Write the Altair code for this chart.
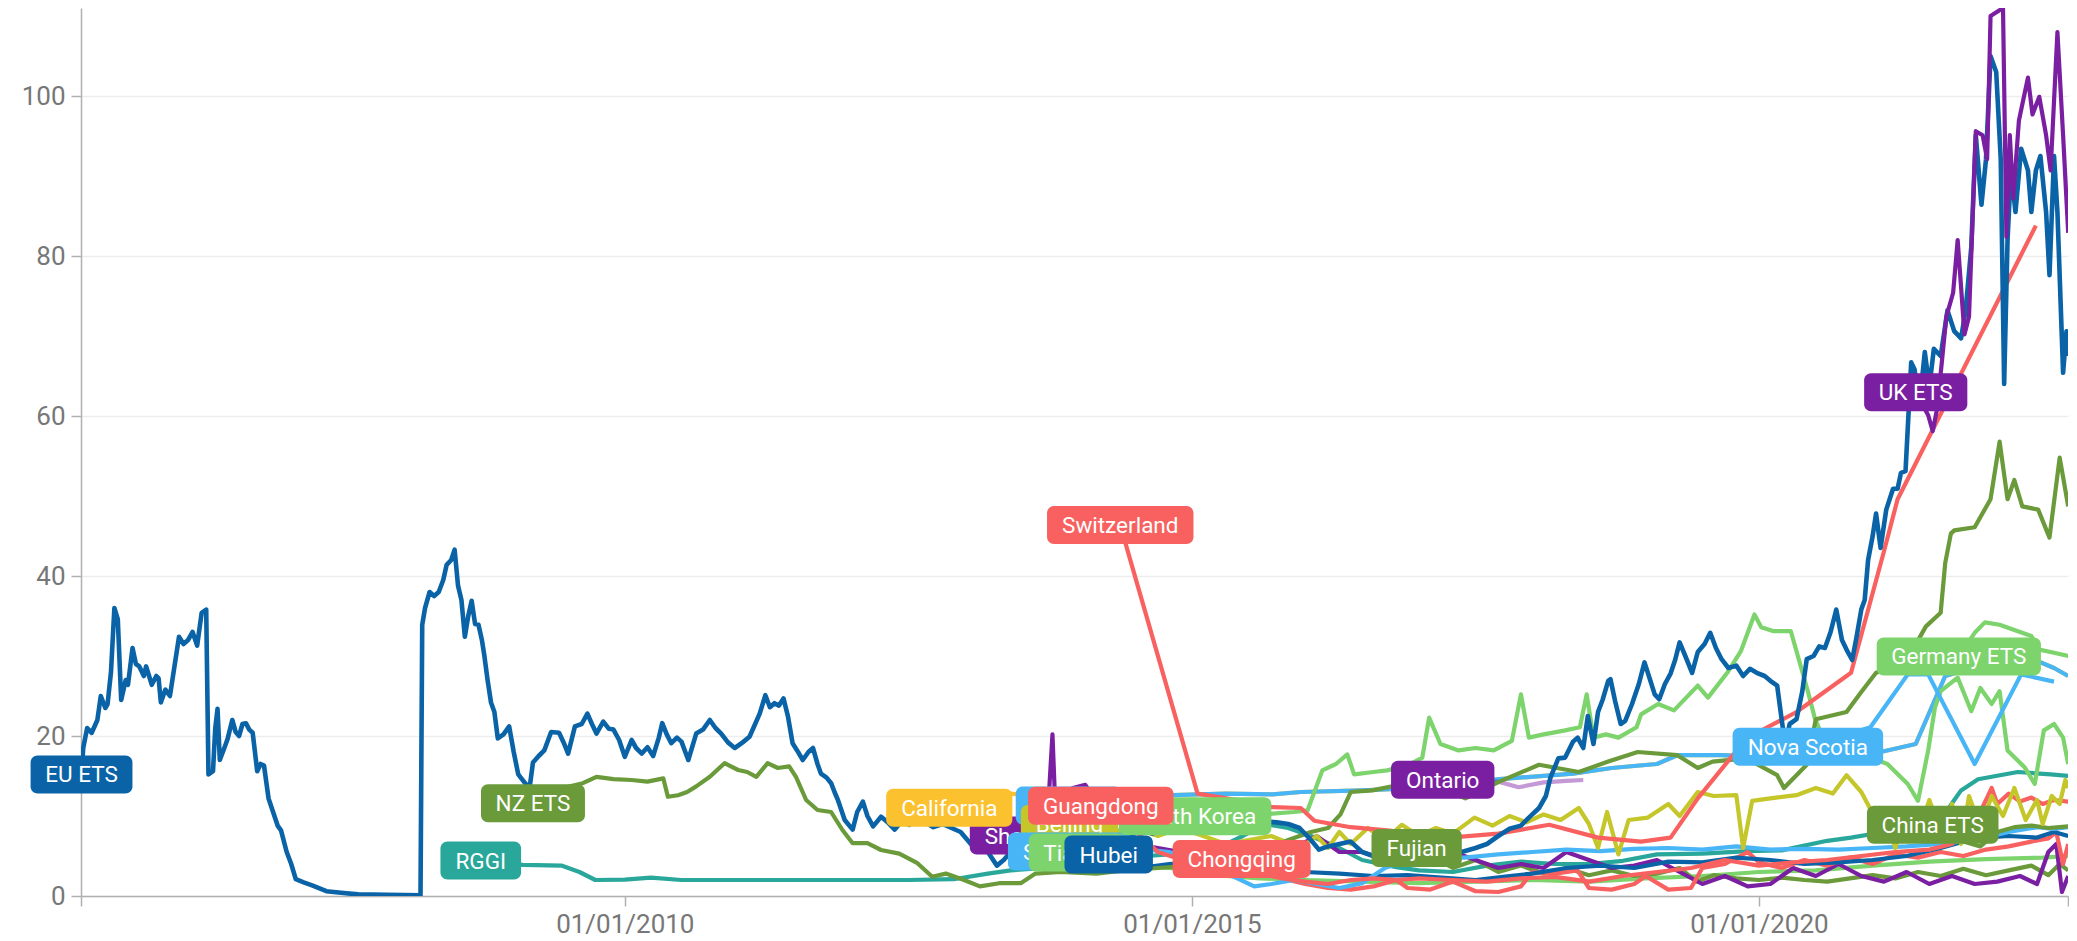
import altair as alt
import pandas as pd

# ---------------- data (decimal year, price) ----------------
EU_ETS = [
    (2005.21, 15.2), (2005.225, 18.5), (2005.26, 21), (2005.30, 20.4), (2005.35, 22), (2005.38, 25),
    (2005.42, 23.5), (2005.44, 24), (2005.47, 28), (2005.50, 36), (2005.53, 34.6), (2005.56, 24.5),
    (2005.60, 27), (2005.62, 26.4), (2005.66, 31), (2005.69, 29), (2005.72, 28.7), (2005.76, 27.5),
    (2005.78, 28.7), (2005.83, 26.4), (2005.87, 27.5), (2005.89, 27.2), (2005.91, 24.2), (2005.95, 25.8),
    (2005.99, 25), (2006.03, 28.7), (2006.07, 32.4), (2006.11, 31.5), (2006.15, 32), (2006.19, 33),
    (2006.23, 31.3), (2006.27, 35.4), (2006.31, 35.8), (2006.33, 15.2), (2006.37, 15.6), (2006.39, 21),
    (2006.41, 23.4), (2006.43, 17), (2006.47, 18.5), (2006.50, 19.7), (2006.54, 22), (2006.57, 20.5),
    (2006.60, 20), (2006.63, 21.5), (2006.66, 21.6), (2006.69, 20.8), (2006.72, 20.4), (2006.76, 15.6),
    (2006.79, 16.5), (2006.82, 16.3), (2006.86, 12.2), (2006.90, 10.5), (2006.94, 8.8), (2006.97, 8.2),
    (2007.02, 5.5), (2007.06, 4.0), (2007.10, 2.1), (2007.17, 1.7), (2007.25, 1.3), (2007.37, 0.6),
    (2007.50, 0.4), (2007.65, 0.2), (2007.90, 0.15), (2008.20, 0.1), (2008.215, 33.9), (2008.24, 36),
    (2008.28, 38), (2008.32, 37.5), (2008.36, 38), (2008.40, 39.5), (2008.43, 41.4), (2008.47, 42),
    (2008.50, 43.3), (2008.53, 38.8), (2008.56, 37), (2008.59, 32.4), (2008.62, 35), (2008.65, 36.9),
    (2008.68, 34), (2008.71, 33.9), (2008.74, 32), (2008.76, 30.2), (2008.79, 27), (2008.82, 24.2),
    (2008.85, 23), (2008.88, 19.7), (2008.93, 20.2), (2008.98, 21.2), (2009.02, 18), (2009.06, 15.2),
    (2009.12, 14.1), (2009.16, 13.5), (2009.19, 16.7), (2009.24, 17.5), (2009.29, 18.2), (2009.35, 20.5),
    (2009.42, 20.4), (2009.46, 19.2), (2009.50, 17.8), (2009.56, 21.2), (2009.62, 21.5), (2009.67, 22.8),
    (2009.71, 21.5), (2009.75, 20.3), (2009.81, 21.8), (2009.86, 20.9), (2009.90, 20.8), (2009.95, 19.5),
    (2010.00, 17.4), (2010.06, 19.5), (2010.10, 18.5), (2010.15, 17.8), (2010.20, 18.6), (2010.25, 17.5),
    (2010.30, 19.8), (2010.33, 21.6), (2010.37, 20.2), (2010.41, 19.1), (2010.46, 19.8), (2010.50, 19.3),
    (2010.56, 17.0), (2010.63, 20.3), (2010.69, 20.8), (2010.75, 22.0), (2010.80, 21.0), (2010.85, 20.3),
    (2010.91, 19.2), (2010.97, 18.5), (2011.04, 19.2), (2011.10, 19.9), (2011.15, 21.5), (2011.19, 22.8),
    (2011.24, 25.1), (2011.28, 23.6), (2011.32, 24.1), (2011.36, 23.8), (2011.40, 24.7), (2011.44, 22.4),
    (2011.48, 19.1), (2011.52, 18.2), (2011.57, 17.0), (2011.62, 18.0), (2011.66, 18.5), (2011.70, 16.5),
    (2011.73, 15.3), (2011.78, 14.8), (2011.82, 14.1), (2011.85, 13.0), (2011.88, 12.0), (2011.94, 9.5),
    (2012.01, 8.3), (2012.05, 10.5), (2012.10, 11.8), (2012.14, 10.0), (2012.19, 8.7), (2012.26, 9.9),
    (2012.32, 9.2), (2012.38, 8.3), (2012.44, 9.3), (2012.51, 8.9), (2012.58, 9.8), (2012.65, 9.2),
    (2012.72, 8.6), (2012.80, 9.0), (2012.88, 8.5), (2012.96, 8.0), (2013.05, 6.5), (2013.12, 5.8),
    (2013.20, 5.5), (2013.28, 3.8), (2013.34, 4.5), (2013.42, 5.8), (2013.50, 5.6), (2013.58, 6.2),
    (2013.66, 6.6), (2013.75, 6.0), (2013.83, 6.4), (2013.92, 6.8), (2014.00, 7.0), (2014.08, 8.8),
    (2014.16, 7.2), (2014.25, 7.4), (2014.35, 7.2), (2014.45, 7.5), (2014.55, 8.2), (2014.65, 7.8),
    (2014.75, 8.4), (2014.85, 8.6), (2014.95, 8.1), (2015.05, 8.3), (2015.15, 8.6), (2015.25, 8.0),
    (2015.35, 8.8), (2015.45, 8.6), (2015.55, 9.7), (2015.65, 9.3), (2015.75, 9.2), (2015.85, 9.0),
    (2015.95, 8.5), (2016.05, 7.0), (2016.12, 5.8), (2016.20, 6.2), (2016.30, 6.5), (2016.40, 6.8),
    (2016.50, 5.5), (2016.60, 5.0), (2016.70, 5.6), (2016.80, 5.8), (2016.90, 6.2), (2017.00, 6.0),
    (2017.10, 5.8), (2017.20, 5.6), (2017.30, 5.3), (2017.40, 5.6), (2017.50, 6.0), (2017.60, 6.5),
    (2017.70, 7.5), (2017.80, 8.4), (2017.90, 8.8), (2017.97, 9.8), (2018.06, 11.0), (2018.12, 12.5),
    (2018.16, 14.8), (2018.23, 17.2), (2018.29, 17.3), (2018.36, 19.3), (2018.40, 19.8), (2018.45, 18.5),
    (2018.49, 22.5), (2018.54, 19.0), (2018.58, 23), (2018.62, 24.5), (2018.67, 26.9), (2018.69, 27.1),
    (2018.73, 24.4), (2018.78, 21.5), (2018.82, 21.9), (2018.88, 24), (2018.94, 26.5), (2018.99, 29.2),
    (2019.04, 27), (2019.08, 25.2), (2019.12, 24.6), (2019.17, 26.5), (2019.22, 27.8), (2019.26, 29.5),
    (2019.30, 31.7), (2019.35, 30), (2019.41, 27.9), (2019.46, 30.5), (2019.52, 31.5), (2019.57, 32.9),
    (2019.62, 31), (2019.67, 29.6), (2019.73, 28.5), (2019.80, 28.8), (2019.86, 27.5), (2019.92, 28.4),
    (2019.98, 27.9), (2020.05, 27.5), (2020.10, 26.9), (2020.16, 26.3), (2020.20, 22), (2020.23, 19),
    (2020.27, 21.5), (2020.33, 22.1), (2020.38, 25.5), (2020.42, 29.6), (2020.48, 30), (2020.53, 31.2),
    (2020.58, 31), (2020.63, 33), (2020.68, 35.8), (2020.73, 32), (2020.77, 30.8), (2020.82, 29.5),
    (2020.86, 32.5), (2020.90, 35.8), (2020.93, 37), (2020.96, 42), (2021.00, 45), (2021.03, 47.8),
    (2021.07, 43.5), (2021.12, 48.3), (2021.18, 50.9), (2021.22, 50.9), (2021.25, 52.9), (2021.29, 53.1),
    (2021.34, 66.7), (2021.37, 65.8), (2021.41, 61), (2021.46, 68), (2021.50, 63.6), (2021.54, 68.4),
    (2021.60, 67.5), (2021.66, 73.2), (2021.72, 70.6), (2021.78, 69.7), (2021.82, 73.2), (2021.87, 81.1),
    (2021.91, 95.1), (2021.96, 86.4), (2022.00, 92.1), (2022.04, 105), (2022.09, 103), (2022.13, 92.1),
    (2022.16, 64), (2022.19, 82), (2022.22, 90.7), (2022.26, 85.5), (2022.31, 93.4), (2022.37, 90.7),
    (2022.40, 85.5), (2022.44, 90.7), (2022.48, 92.5), (2022.53, 85.5), (2022.56, 77.6), (2022.60, 92.5),
    (2022.63, 85.5), (2022.68, 65.4), (2022.71, 70.6), (2022.725, 67.5),
]

NZ_ETS = [
    (2009.19, 11.6), (2009.45, 13.5), (2009.63, 14.1), (2009.75, 14.9), (2009.90, 14.6), (2010.06, 14.5),
    (2010.20, 14.3), (2010.34, 14.7), (2010.38, 12.4), (2010.47, 12.6), (2010.55, 13.0), (2010.63, 13.7),
    (2010.75, 14.9), (2010.88, 16.6), (2011.00, 15.75), (2011.08, 15.5), (2011.16, 14.9), (2011.26, 16.6),
    (2011.35, 16.0), (2011.45, 16.2), (2011.51, 14.9), (2011.60, 12.0), (2011.70, 10.75), (2011.82, 10.5),
    (2011.92, 8.25), (2012.01, 6.6), (2012.14, 6.6), (2012.26, 5.75), (2012.42, 5.3), (2012.58, 4.1),
    (2012.71, 2.4), (2012.83, 2.8), (2012.99, 2.0), (2013.13, 1.2), (2013.30, 1.6), (2013.49, 1.6),
    (2013.62, 2.8), (2013.84, 3.0), (2014.16, 2.8), (2014.40, 3.2), (2014.70, 3.5), (2015.00, 3.8),
    (2015.30, 4.5), (2015.60, 5.5), (2015.85, 7.0), (2016.05, 8.0), (2016.20, 8.5), (2016.31, 10.2),
    (2016.40, 13.0), (2016.59, 13.2), (2016.83, 13.9), (2017.03, 13.6), (2017.27, 13.0), (2017.41, 12.2),
    (2017.71, 14.3), (2018.06, 16.4), (2018.41, 15.5), (2018.67, 16.8), (2018.93, 18.0), (2019.28, 17.6),
    (2019.46, 16.0), (2019.59, 16.8), (2019.89, 17.2), (2020.16, 15.1), (2020.22, 13.5), (2020.33, 15.1),
    (2020.42, 16.4), (2020.50, 22.1), (2020.77, 23.0), (2020.90, 25.5), (2021.03, 27.9), (2021.29, 29.2),
    (2021.47, 33.7), (2021.60, 35.4), (2021.64, 41.6), (2021.69, 45.3), (2021.72, 45.7), (2021.90, 46.1),
    (2022.04, 49.6), (2022.12, 56.8), (2022.19, 49.6), (2022.25, 52.0), (2022.32, 48.7), (2022.46, 48.3),
    (2022.56, 44.8), (2022.65, 54.8), (2022.725, 48.7),
]

RGGI = [
    (2008.73, 4.43), (2009.10, 3.9), (2009.44, 3.8), (2009.60, 3.0), (2009.74, 2.0), (2010.00, 2.05),
    (2010.23, 2.3), (2010.50, 2.0), (2011.00, 2.0), (2011.50, 2.0), (2012.00, 2.0), (2012.50, 2.0),
    (2012.90, 2.1), (2013.20, 2.8), (2013.40, 3.2), (2013.70, 3.5), (2014.00, 4.0), (2014.30, 4.8),
    (2014.60, 5.0), (2014.90, 5.3), (2015.20, 5.8), (2015.45, 7.5), (2015.65, 9.0), (2015.85, 8.5),
    (2016.05, 7.5), (2016.30, 6.0), (2016.50, 4.5), (2016.80, 3.6), (2017.00, 3.2), (2017.30, 3.0),
    (2017.60, 3.8), (2017.90, 4.3), (2018.20, 4.0), (2018.50, 4.0), (2018.80, 4.4), (2019.10, 5.2),
    (2019.50, 5.3), (2019.90, 5.6), (2020.20, 5.7), (2020.60, 6.9), (2020.81, 7.3), (2021.10, 8.0),
    (2021.35, 8.5), (2021.60, 9.5), (2021.72, 12.0), (2021.78, 13.2), (2021.93, 14.6), (2022.28, 15.5),
    (2022.57, 15.2), (2022.725, 15.0),
]

QUEBEC = [
    (2013.914, 11.3), (2014.30, 11.5), (2014.83, 12.6), (2015.30, 12.8), (2015.71, 12.7), (2015.96, 13.0),
    (2016.50, 13.2), (2017.00, 13.5), (2017.71, 14.6), (2018.36, 15.3), (2018.70, 16.0), (2019.10, 16.5),
    (2019.28, 17.6), (2019.67, 17.6), (2020.00, 17.4), (2020.50, 17.3), (2021.07, 18.0), (2021.38, 19.0),
    (2021.64, 27.5), (2022.00, 29.0), (2022.35, 30.0), (2022.60, 28.5), (2022.725, 27.5),
]

CALIFORNIA = [
    (2012.86, 11.04), (2013.10, 11.6), (2013.40, 12.8), (2013.60, 12.5), (2013.914, 11.3), (2014.30, 11.5),
    (2014.83, 12.6), (2015.30, 12.8), (2015.71, 12.7), (2015.96, 13.0), (2016.50, 13.2), (2017.00, 13.5),
    (2017.71, 14.6), (2018.36, 15.3), (2018.70, 16.0), (2019.10, 16.5), (2019.28, 17.6), (2019.67, 17.6),
    (2020.00, 17.4), (2020.50, 17.3), (2021.07, 18.0), (2021.38, 19.0), (2021.64, 27.5), (2022.00, 29.0),
    (2022.35, 30.0), (2022.60, 28.5), (2022.725, 27.5),
]

SHENZHEN = [
    (2013.605, 7.55), (2013.68, 12), (2013.74, 13), (2013.77, 20.2), (2013.79, 13), (2013.85, 12),
    (2013.95, 13.5), (2014.06, 13.9), (2014.15, 12), (2014.25, 10), (2014.35, 8), (2014.50, 6.5),
    (2014.70, 6), (2014.90, 5.5), (2015.10, 5.8), (2015.30, 6.5), (2015.50, 5), (2015.70, 5.5),
    (2015.90, 6), (2016.10, 7.5), (2016.30, 5.5), (2016.50, 5.5), (2016.70, 4.5), (2016.90, 6),
    (2017.10, 7), (2017.30, 5.5), (2017.50, 4.5), (2017.70, 3.5), (2017.90, 4), (2018.10, 3.5),
    (2018.30, 5.5), (2018.50, 4.5), (2018.70, 3.5), (2018.90, 3.8), (2019.10, 4.5), (2019.30, 3.0),
    (2019.50, 1.5), (2019.70, 2.5), (2019.90, 1.2), (2020.10, 1.5), (2020.30, 3.5), (2020.50, 2.5),
    (2020.70, 4.0), (2020.90, 2.5), (2021.10, 1.8), (2021.30, 3.0), (2021.50, 1.5), (2021.70, 2.5),
    (2021.90, 1.5), (2022.10, 1.8), (2022.30, 2.5), (2022.45, 1.5), (2022.55, 5.5), (2022.62, 6.5),
    (2022.67, 0.5), (2022.725, 2.5),
]

SHANGHAI = [
    (2013.92, 5.55), (2014.00, 6.5), (2014.20, 6.8), (2014.40, 6.2), (2014.60, 5.8), (2014.80, 5.5),
    (2015.00, 4.5), (2015.20, 3.5), (2015.40, 2.2), (2015.55, 1.2), (2015.70, 1.5), (2015.90, 2.0),
    (2016.10, 1.5), (2016.30, 1.0), (2016.50, 1.6), (2016.70, 3.5), (2016.90, 4.5), (2017.10, 5.0),
    (2017.40, 4.8), (2017.70, 5.2), (2018.00, 5.5), (2018.30, 5.8), (2018.60, 5.6), (2018.90, 5.9),
    (2019.20, 6.0), (2019.50, 5.8), (2019.80, 6.2), (2020.10, 5.8), (2020.40, 5.9), (2020.70, 5.8),
    (2021.00, 6.0), (2021.30, 6.2), (2021.60, 6.5), (2021.90, 7.0), (2022.20, 8.0), (2022.45, 8.6),
    (2022.60, 8.4), (2022.725, 8.6),
]

BEIJING = [
    (2013.92, 8.99), (2014.00, 8.5), (2014.15, 9.5), (2014.30, 8.0), (2014.50, 8.5), (2014.70, 7.5),
    (2014.90, 8.5), (2015.10, 7.5), (2015.30, 6.5), (2015.50, 7.0), (2015.70, 7.5), (2015.96, 6.0),
    (2016.10, 7.5), (2016.20, 6.0), (2016.30, 8.0), (2016.40, 6.5), (2016.55, 8.5), (2016.70, 7.0),
    (2016.85, 8.9), (2017.00, 7.5), (2017.15, 8.5), (2017.30, 7.8), (2017.49, 9.8), (2017.65, 8.8),
    (2017.80, 10.0), (2017.95, 9.2), (2018.10, 10.2), (2018.25, 9.5), (2018.41, 11.0), (2018.50, 9.0),
    (2018.58, 6.0), (2018.66, 10.5), (2018.76, 5.2), (2018.85, 9.5), (2019.02, 9.8), (2019.20, 11.5),
    (2019.30, 10.0), (2019.46, 13.0), (2019.60, 12.5), (2019.80, 12.6), (2019.86, 6.0), (2019.94, 11.9),
    (2020.10, 12.2), (2020.33, 12.6), (2020.50, 13.5), (2020.65, 12.8), (2020.77, 15.1), (2020.90, 13.0),
    (2020.99, 10.6), (2021.05, 7.5), (2021.12, 9.5), (2021.20, 6.0), (2021.30, 10.5), (2021.40, 7.5),
    (2021.50, 12.0), (2021.60, 8.0), (2021.70, 11.5), (2021.78, 6.5), (2021.85, 12.5), (2021.95, 8.5),
    (2022.05, 12.5), (2022.15, 10.0), (2022.25, 13.5), (2022.35, 9.5), (2022.45, 12.0), (2022.50, 9.0),
    (2022.58, 12.5), (2022.65, 11.5), (2022.70, 14.5), (2022.725, 13.5),
]

TIANJIN = [
    (2013.984, 5.43), (2014.10, 5.2), (2014.30, 4.8), (2014.50, 3.8), (2014.80, 3.5), (2015.00, 3.2),
    (2015.30, 2.5), (2015.60, 2.2), (2016.00, 2.0), (2016.50, 1.8), (2017.00, 1.6), (2017.50, 1.8),
    (2018.00, 2.0), (2018.50, 1.8), (2019.00, 2.2), (2019.50, 2.5), (2020.00, 3.0), (2020.50, 3.2),
    (2021.00, 3.8), (2021.50, 4.3), (2022.00, 4.6), (2022.50, 4.8), (2022.725, 5.0),
]

HUBEI = [
    (2014.266, 5.18), (2014.40, 4.0), (2014.60, 3.6), (2014.80, 4.0), (2015.00, 4.2), (2015.20, 3.8),
    (2015.40, 3.5), (2015.60, 4.0), (2015.80, 3.8), (2016.00, 3.0), (2016.30, 2.8), (2016.60, 2.5),
    (2016.90, 2.6), (2017.20, 2.3), (2017.50, 2.0), (2017.80, 2.5), (2018.00, 2.8), (2018.30, 3.5),
    (2018.60, 3.8), (2018.90, 3.5), (2019.20, 4.3), (2019.50, 4.2), (2019.80, 4.8), (2020.10, 4.5),
    (2020.40, 4.0), (2020.70, 4.2), (2021.00, 4.5), (2021.30, 5.0), (2021.60, 6.0), (2021.90, 7.2),
    (2022.20, 7.5), (2022.45, 7.3), (2022.60, 8.0), (2022.725, 7.5),
]

GUANGDONG = [
    (2014.196, 11.29), (2014.30, 10.5), (2014.40, 9.5), (2014.55, 7.5), (2014.70, 5.5), (2014.85, 4.8),
    (2015.00, 4.0), (2015.20, 3.0), (2015.40, 2.5), (2015.60, 2.8), (2015.80, 2.2), (2016.00, 1.8),
    (2016.20, 1.5), (2016.40, 2.0), (2016.60, 2.2), (2016.80, 2.0), (2017.00, 2.2), (2017.30, 2.0),
    (2017.60, 1.8), (2017.90, 2.2), (2018.20, 2.4), (2018.50, 1.8), (2018.80, 2.5), (2019.10, 3.0),
    (2019.40, 3.5), (2019.70, 4.5), (2020.00, 3.8), (2020.30, 4.2), (2020.60, 4.5), (2020.90, 5.0),
    (2021.20, 5.5), (2021.50, 5.8), (2021.70, 6.5), (2021.85, 8.5), (2021.95, 10.5), (2022.05, 13.5),
    (2022.10, 11.5), (2022.20, 12.8), (2022.30, 11.8), (2022.40, 12.3), (2022.50, 11.5), (2022.60, 12.0),
    (2022.725, 11.8),
]

CHONGQING = [
    (2015.439, 4.62), (2015.60, 3.5), (2015.80, 2.2), (2016.00, 1.5), (2016.20, 1.0), (2016.40, 0.8),
    (2016.60, 1.2), (2016.80, 2.0), (2016.90, 1.0), (2017.10, 0.8), (2017.30, 1.8), (2017.50, 0.6),
    (2017.70, 0.5), (2017.90, 1.2), (2018.00, 3.0), (2018.20, 2.8), (2018.40, 3.2), (2018.50, 1.0),
    (2018.70, 0.8), (2018.90, 1.5), (2019.00, 2.5), (2019.20, 0.8), (2019.40, 1.0), (2019.50, 3.5),
    (2019.70, 4.0), (2019.90, 5.5), (2020.00, 4.2), (2020.20, 3.5), (2020.40, 4.5), (2020.60, 3.8),
    (2020.80, 4.8), (2021.00, 4.0), (2021.20, 5.2), (2021.40, 4.8), (2021.60, 5.5), (2021.80, 5.0),
    (2022.00, 5.8), (2022.20, 6.2), (2022.40, 6.8), (2022.55, 7.2), (2022.62, 8.0), (2022.68, 4.0),
    (2022.725, 6.5),
]

SWITZERLAND = [
    (2014.368, 46.36), (2015.05, 12.8), (2015.40, 12.0), (2015.71, 11.1), (2015.96, 11.0), (2016.08, 9.4),
    (2016.40, 8.6), (2016.72, 8.2), (2017.27, 7.3), (2017.70, 7.8), (2018.15, 8.9), (2018.58, 7.3),
    (2018.96, 6.8), (2019.22, 7.3), (2019.46, 12.2), (2019.89, 19.7), (2020.33, 23.0), (2020.81, 27.9),
    (2021.10, 43.1), (2021.22, 49.6), (2022.44, 83.8),
]

SOUTH_KOREA = [
    (2015.028, 9.98), (2015.30, 9.5), (2015.50, 10.0), (2015.71, 10.3), (2015.90, 10.5), (2016.02, 10.7),
    (2016.15, 15.7), (2016.27, 16.5), (2016.37, 17.7), (2016.43, 15.2), (2016.60, 15.5), (2016.72, 15.7),
    (2016.90, 16.3), (2017.03, 17.3), (2017.09, 22.3), (2017.19, 19.0), (2017.35, 18.2), (2017.50, 18.5),
    (2017.66, 18.2), (2017.82, 19.4), (2017.90, 25.2), (2017.97, 19.8), (2018.10, 20.2), (2018.29, 20.7),
    (2018.42, 21.1), (2018.48, 25.2), (2018.54, 19.8), (2018.65, 20.2), (2018.76, 19.8), (2018.92, 21.1),
    (2018.96, 22.7), (2019.11, 24.0), (2019.25, 23.2), (2019.46, 26.3), (2019.55, 24.8), (2019.72, 27.9),
    (2019.84, 30.6), (2019.96, 35.2), (2020.02, 33.6), (2020.13, 33.1), (2020.28, 33.1), (2020.37, 28.6),
    (2020.43, 25.6), (2020.49, 22.3), (2020.60, 18.5), (2020.80, 17.8), (2021.00, 17.2), (2021.13, 16.5),
    (2021.31, 14.0), (2021.40, 11.9), (2021.49, 18.2), (2021.55, 23.6), (2021.60, 25.6), (2021.75, 27.3),
    (2021.87, 23.1), (2021.95, 26.0), (2022.05, 24.0), (2022.12, 25.6), (2022.19, 18.2), (2022.34, 16.1),
    (2022.43, 14.0), (2022.51, 20.7), (2022.60, 21.5), (2022.68, 19.8), (2022.725, 16.5),
]

FUJIAN = [
    (2016.98, 5.99), (2017.10, 5.0), (2017.30, 3.5), (2017.50, 4.5), (2017.70, 3.0), (2017.90, 3.8),
    (2018.10, 2.8), (2018.30, 3.5), (2018.50, 2.6), (2018.70, 3.2), (2018.90, 2.5), (2019.10, 2.8),
    (2019.30, 3.5), (2019.45, 1.8), (2019.60, 2.6), (2019.80, 2.2), (2020.00, 2.0), (2020.20, 2.3),
    (2020.40, 2.0), (2020.60, 1.8), (2020.80, 2.2), (2021.00, 2.6), (2021.20, 2.2), (2021.40, 3.0),
    (2021.60, 2.5), (2021.80, 3.4), (2022.00, 2.6), (2022.20, 3.2), (2022.40, 3.8), (2022.55, 2.6),
    (2022.65, 4.0), (2022.725, 3.2),
]

ONTARIO = [
    (2017.21, 14.54), (2017.45, 14.3), (2017.70, 14.3), (2017.88, 13.6), (2018.10, 14.2), (2018.30, 14.4),
    (2018.45, 14.5),
]

NOVA_SCOTIA = [
    (2020.43, 18.66), (2020.98, 21.1), (2021.31, 27.7), (2021.49, 27.7), (2021.90, 16.5), (2022.31, 27.7),
    (2022.60, 26.8),
]

CHINA_ETS = [
    (2021.53, 8.92), (2021.65, 7.8), (2021.80, 6.8), (2021.95, 6.2), (2022.10, 8.0), (2022.25, 8.6),
    (2022.40, 8.8), (2022.55, 8.5), (2022.725, 8.7),
]

GERMANY_ETS = [
    (2021.76, 29.95), (2021.90, 32.9), (2021.99, 34.2), (2022.12, 33.9), (2022.20, 33.5), (2022.30, 33.0),
    (2022.40, 32.5), (2022.47, 30.8), (2022.60, 30.4), (2022.725, 30.0),
]

UK_ETS = [
    (2021.38, 62.96), (2021.49, 60.1), (2021.53, 58.1), (2021.57, 61.0), (2021.65, 72.4), (2021.71, 75.4),
    (2021.75, 82.0), (2021.81, 70.2), (2021.85, 72.4), (2021.91, 95.6), (2021.97, 95.1), (2022.01, 92.1),
    (2022.04, 110.0), (2022.15, 111.0), (2022.18, 82.4), (2022.21, 95.1), (2022.24, 87.2), (2022.29, 96.9),
    (2022.37, 102.3), (2022.41, 97.7), (2022.47, 99.9), (2022.53, 95.1), (2022.57, 90.7), (2022.63, 108.0),
    (2022.68, 95.1), (2022.725, 82.9),
]

# ---------------- styling ----------------
BLUE = "#0a63a6"
OLIVE = "#6a9a3a"
TEAL = "#29a79a"
AMBER = "#fbc12e"
PURPLE = "#7b1fa2"
LIME = "#c4c62a"
LBLUE = "#47b5f6"
LGREEN = "#7dd36c"
RED = "#f8615f"

LW = 4.2
# name, data, color, line width, line opacity  (drawing order of the lines)
LINES = [
    ("RGGI", RGGI, TEAL, LW, 1.0),
    ("California", CALIFORNIA, AMBER, LW, 1.0),
    ("Québec", QUEBEC, LBLUE, LW, 1.0),
    ("Tianjin", TIANJIN, LGREEN, LW, 1.0),
    ("Fujian", FUJIAN, OLIVE, LW, 1.0),
    ("Shenzhen", SHENZHEN, PURPLE, LW, 1.0),
    ("Chongqing", CHONGQING, RED, LW, 1.0),
    ("Hubei", HUBEI, BLUE, LW, 1.0),
    ("Shanghai", SHANGHAI, LBLUE, LW, 1.0),
    ("Guangdong", GUANGDONG, RED, LW, 1.0),
    ("China ETS", CHINA_ETS, OLIVE, LW, 1.0),
    ("Beijing", BEIJING, LIME, LW, 1.0),
    ("Ontario", ONTARIO, PURPLE, LW, 0.45),
    ("South Korea", SOUTH_KOREA, LGREEN, LW, 1.0),
    ("Nova Scotia", NOVA_SCOTIA, LBLUE, LW, 1.0),
    ("Germany ETS", GERMANY_ETS, LGREEN, LW, 1.0),
    ("NZ ETS", NZ_ETS, OLIVE, LW, 1.0),
    ("Switzerland", SWITZERLAND, RED, LW, 1.0),
    ("EU ETS", EU_ETS, BLUE, 4.6, 1.0),
    ("UK ETS", UK_ETS, PURPLE, LW, 1.0),
]

# label stacking order (bottom -> top)
LABEL_ORDER = [
    "EU ETS", "NZ ETS", "RGGI", "Shenzhen", "California", "Québec", "Beijing", "Shanghai", "Tianjin",
    "South Korea", "Guangdong", "Hubei", "Chongqing", "Switzerland", "Fujian", "Ontario",
    "Nova Scotia", "China ETS", "Germany ETS", "UK ETS",
]

FONT = "Roboto"
LABEL_FONT_SIZE = 22.5
CHAR_EM = {
    " ": .248, "B": .622, "C": .652, "E": .568, "G": .681, "H": .713, "I": .272, "K": .627, "N": .713,
    "O": .688, "Q": .688, "R": .616, "S": .593, "T": .565, "U": .652, "Z": .6, "F": .553,
    "a": .543, "b": .561, "c": .523, "d": .561, "e": .53, "é": .53, "f": .347, "g": .56, "h": .551,
    "i": .243, "j": .239, "l": .243, "m": .876, "n": .551, "o": .57, "q": .561, "r": .338, "s": .516,
    "t": .327, "u": .551, "v": .483, "w": .75, "y": .473, "z": .496,
}


def box_width(text):
    return sum(CHAR_EM.get(ch, 0.55) for ch in text) * LABEL_FONT_SIZE + 30


def to_ts(t):
    y = int(t)
    a = pd.Timestamp(year=y, month=1, day=1)
    b = pd.Timestamp(year=y + 1, month=1, day=1)
    return a + (b - a) * (t - y)


def frame(points):
    return pd.DataFrame({"date": [to_ts(t) for t, _ in points], "value": [v for _, v in points]})


X_START = alt.DateTime(year=2005, month=3, date=17)
X_END = alt.DateTime(year=2022, month=9, date=22)
X_SCALE = alt.Scale(domain=[X_START, X_END], nice=False)
Y_SCALE = alt.Scale(domain=[0, 111], nice=False, zero=False)

X_AXIS = alt.Axis(
    values=[X_START, alt.DateTime(year=2010, month=1, date=1), alt.DateTime(year=2015, month=1, date=1),
            alt.DateTime(year=2020, month=1, date=1), X_END],
    labelExpr="(month(datum.value) == 0 && date(datum.value) == 1) ? timeFormat(datum.value, '%d/%m/%Y') : ''",
    title=None, grid=False, tickSize=10, tickWidth=1.5, domainWidth=1.5,
    domainColor="#b0b0b0", tickColor="#b0b0b0", labelFont=FONT, labelFontSize=26,
    labelColor="#777777", labelPadding=5, labelFlush=False, labelOverlap=False,
)
Y_AXIS = alt.Axis(
    values=[0, 20, 40, 60, 80, 100], title=None, grid=True, gridColor="#ededed", gridWidth=1.5,
    tickSize=10, tickWidth=1.5, domainWidth=1.5, domainColor="#b0b0b0", tickColor="#b0b0b0",
    labelFont=FONT, labelFontSize=26, labelColor="#777777", labelPadding=6,
)

X = alt.X("date:T", scale=X_SCALE, axis=X_AXIS)
Y = alt.Y("value:Q", scale=Y_SCALE, axis=Y_AXIS)

layers = []
info = {}
for name, pts, color, width, opacity in LINES:
    info[name] = (pts, color)
    layers.append(
        alt.Chart(frame(pts)).mark_line(
            color=color, strokeWidth=width, opacity=opacity, clip=True, strokeJoin="round"
        ).encode(x=X, y=Y)
    )

for name in LABEL_ORDER:
    pts, color = info[name]
    t0, v0 = pts[0]
    lab = pd.DataFrame({"date": [to_ts(t0)], "value": [v0], "name": [name]})
    w = box_width(name)
    layers.append(
        alt.Chart(lab).mark_rect(
            color=color, cornerRadius=7, xOffset=-w / 2, x2Offset=w / 2, yOffset=-19, y2Offset=19
        ).encode(x=X, x2=alt.X2("date"), y=Y, y2=alt.Y2("value"))
    )
    layers.append(
        alt.Chart(lab).mark_text(
            color="white", font=FONT, fontSize=LABEL_FONT_SIZE, align="center", baseline="middle", dy=1
        ).encode(x=X, y=Y, text="name:N")
    )

chart = alt.layer(*layers).properties(
    width=1987,
    height=888,
    autosize=alt.AutoSizeParams(type="none"),
    padding={"left": 73, "top": 0, "right": 1, "bottom": 45},
).configure_view(strokeWidth=0)

chart.save("out.html", embed_options={"renderer": "svg", "actions": False})
